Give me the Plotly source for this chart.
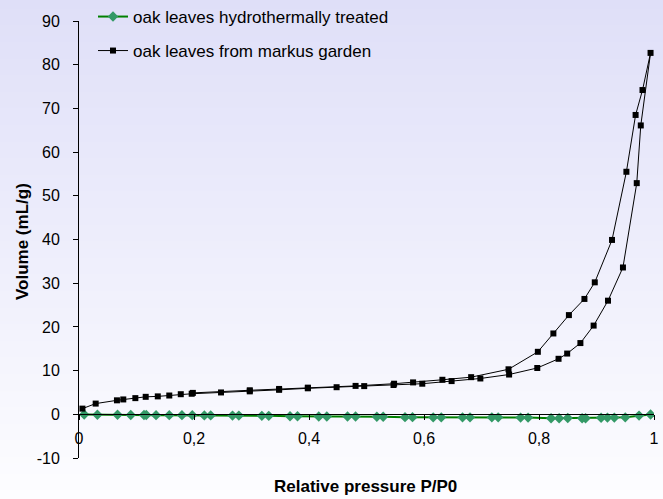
import base64
import struct
import zlib

import plotly.graph_objects as go

# ---------------- data ----------------
x_ticks = [0, 0.2, 0.4, 0.6, 0.8, 1.0]
x_tick_text = ["0", "0,2", "0,4", "0,6", "0,8", "1"]
y_ticks = [-10, 0, 10, 20, 30, 40, 50, 60, 70, 80, 90]
y_tick_text = ["-10", "0", "10", "20", "30", "40", "50", "60", "70", "80", "90"]

# oak leaves from markus garden: adsorption branch then desorption branch
ads_p = [0.006, 0.029, 0.066, 0.077, 0.098, 0.116, 0.137, 0.157, 0.177, 0.196,
         0.247, 0.297, 0.348, 0.398, 0.448, 0.496, 0.547, 0.597, 0.648, 0.698,
         0.748, 0.797, 0.834, 0.849, 0.872, 0.895, 0.920, 0.946, 0.970, 0.977, 0.994]
ads_v = [1.3, 2.45, 3.2, 3.4, 3.7, 4.0, 4.1, 4.3, 4.6, 4.7,
         5.0, 5.25, 5.6, 5.95, 6.2, 6.45, 6.7, 7.0, 7.6, 8.2,
         9.1, 10.6, 12.7, 13.9, 16.3, 20.3, 26.0, 33.6, 52.9, 66.1, 82.7]
des_p = [0.980, 0.968, 0.952, 0.927, 0.897, 0.879, 0.852, 0.825, 0.798, 0.747,
         0.682, 0.632, 0.581, 0.548, 0.481, 0.398, 0.348, 0.297, 0.198]
des_v = [74.2, 68.5, 55.5, 39.9, 30.2, 26.4, 22.7, 18.5, 14.3, 10.3,
         8.5, 7.9, 7.3, 7.0, 6.5, 6.1, 5.8, 5.5, 4.9]

# oak leaves hydrothermally treated
ht_p = [0.009, 0.032, 0.067, 0.090, 0.113, 0.117, 0.134, 0.157, 0.179, 0.197,
        0.218, 0.229, 0.267, 0.278, 0.318, 0.330, 0.367, 0.380, 0.417, 0.431,
        0.467, 0.481, 0.518, 0.529, 0.567, 0.580, 0.616, 0.630, 0.667, 0.680,
        0.718, 0.729, 0.768, 0.781, 0.821, 0.835, 0.850, 0.875, 0.881, 0.908,
        0.919, 0.931, 0.950, 0.974, 0.994]
ht_v = [-0.05, -0.1, -0.1, -0.15, -0.15, -0.15, -0.2, -0.2, -0.2, -0.2,
        -0.25, -0.25, -0.3, -0.3, -0.35, -0.35, -0.45, -0.45, -0.5, -0.5,
        -0.5, -0.5, -0.55, -0.55, -0.65, -0.65, -0.7, -0.7, -0.7, -0.7,
        -0.7, -0.7, -0.75, -0.75, -0.9, -0.9, -0.85, -0.9, -0.9, -0.8,
        -0.75, -0.75, -0.7, -0.3, -0.05]

FONT = "Liberation Sans, Arial, sans-serif"
W, H = 663, 499
ML, MR, MT, MB = 79, 9, 21, 41
PW, PH = W - ML - MR, H - MT - MB


# ---------- background gradient image (lavender -> white) ----------
def gradient_png(height, top, bot):
    rows = []
    for i in range(height):
        t = i / (height - 1)
        c = bytes(round(top[k] + (bot[k] - top[k]) * t) for k in range(3))
        rows.append(b"\x00" + c * 2)
    raw = b"".join(rows)

    def chunk(tag, data):
        return (struct.pack(">I", len(data)) + tag + data +
                struct.pack(">I", zlib.crc32(tag + data) & 0xFFFFFFFF))

    png = b"\x89PNG\r\n\x1a\n"
    png += chunk(b"IHDR", struct.pack(">IIBBBBB", 2, height, 8, 2, 0, 0, 0))
    png += chunk(b"IDAT", zlib.compress(raw))
    png += chunk(b"IEND", b"")
    return "data:image/png;base64," + base64.b64encode(png).decode()


bg_src = gradient_png(H, (223, 223, 248), (253, 253, 255))


def py(px_y):
    return (H - MB - px_y) / PH


def pxx(px_x):
    return (px_x - ML) / PW


fig = go.Figure()
fig.add_trace(go.Scatter(
    x=ht_p, y=ht_v, mode="lines+markers",
    name="oak leaves hydrothermally treated",
    line=dict(color="#008000", width=2),
    marker=dict(symbol="diamond", size=8, color="#339966"),
    legend="legend",
))
fig.add_trace(go.Scatter(
    x=ads_p + des_p, y=ads_v + des_v, mode="lines+markers",
    name="oak leaves from markus garden",
    line=dict(color="#000000", width=1),
    marker=dict(symbol="square", size=6, color="#000000"),
    legend="legend2",
))

fig.update_layout(
    width=W, height=H,
    margin=dict(l=ML, r=MR, t=MT, b=MB, pad=0, autoexpand=False),
    paper_bgcolor="rgba(0,0,0,0)",
    plot_bgcolor="rgba(0,0,0,0)",
    font=dict(family=FONT, size=16, color="#000000"),
    showlegend=True,
    images=[dict(
        source=bg_src, xref="paper", yref="paper",
        x=pxx(0), y=py(0), sizex=W / PW, sizey=H / PH,
        xanchor="left", yanchor="top", sizing="stretch", layer="below",
        opacity=1,
    )],
    xaxis=dict(
        range=[0, 1], tickvals=x_ticks, ticktext=x_tick_text,
        showgrid=False, zeroline=False,
        showline=True, linecolor="#000000", linewidth=1,
        ticks="outside", ticklen=5, tickcolor="#000000",
        anchor="free", position=0.1,
        ticklabelstandoff=4,
        tickfont=dict(family=FONT, size=16),
    ),
    yaxis=dict(
        range=[-10, 90], tickvals=y_ticks, ticktext=y_tick_text,
        showgrid=False, zeroline=False,
        showline=True, linecolor="#000000", linewidth=1,
        ticks="outside", ticklen=5, tickcolor="#000000",
        ticklabelstandoff=10,
        tickfont=dict(family=FONT, size=16),
    ),
    legend=dict(
        x=pxx(93), y=py(-1), xanchor="left", yanchor="top",
        bgcolor="rgba(0,0,0,0)", font=dict(family=FONT, size=17),
        itemwidth=30,
    ),
    legend2=dict(
        x=pxx(93), y=py(33), xanchor="left", yanchor="top",
        bgcolor="rgba(0,0,0,0)", font=dict(family=FONT, size=17),
        itemwidth=30,
    ),
    annotations=[
        dict(text="<b>Volume (mL/g)</b>", xref="paper", yref="paper",
             x=pxx(22), y=py(242), textangle=-90, showarrow=False,
             font=dict(family=FONT, size=17), xanchor="center", yanchor="middle"),
        dict(text="<b>Relative pressure P/P0</b>", xref="paper", yref="paper",
             x=pxx(365), y=py(487), showarrow=False,
             font=dict(family=FONT, size=17), xanchor="center", yanchor="middle"),
    ],
)

fig.write_html("out.html")
